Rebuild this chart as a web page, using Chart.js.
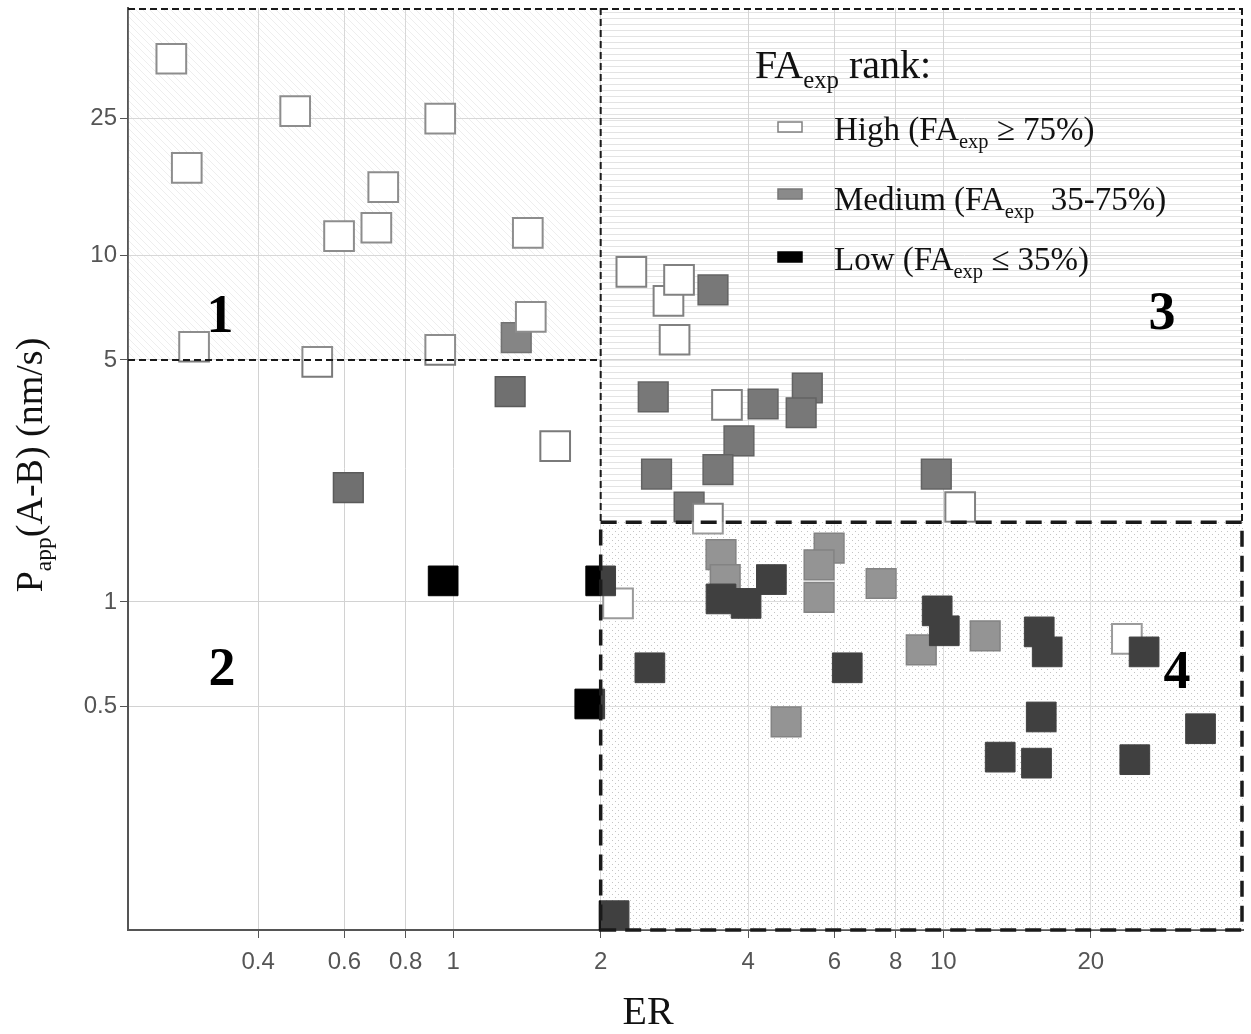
<!DOCTYPE html>
<html>
<head>
<meta charset="utf-8">
<script src="https://cdn.jsdelivr.net/npm/chart.js@4.4.1/dist/chart.umd.min.js"></script>
<style>
  html, body { margin: 0; padding: 0; background: #fff; }
  #wrap { width: 1251px; height: 1034px; position: relative; }
</style>
</head>
<body>
<div id="wrap"><canvas id="chart"></canvas></div>
<script>
// values (ER, Papp A-B in nm/s), grouped by FAexp rank
const highER   = [0.266, 0.286, 0.476, 0.941, 0.72, 0.585, 0.697, 1.42, 1.44, 0.296, 0.528, 0.941, 1.615,
                  2.31, 2.75, 2.89, 2.83, 3.62, 3.31, 10.83, 2.17, 23.7];
const highPapp = [37.1, 17.96, 26.2, 24.9, 15.8, 11.4, 12.05, 11.65, 6.66, 5.46, 4.94, 5.35, 2.82,
                  8.99, 7.41, 8.52, 5.72, 3.71, 1.74, 1.88, 0.99, 0.782];

const medER   = [1.345, 1.307, 0.611, 3.39, 2.56, 4.29, 5.28, 5.13, 3.83, 2.6, 3.47, 3.03, 9.68,
                 3.52, 3.59, 5.85, 5.58, 5.58, 7.47, 4.78, 9.02, 12.18];
const medPapp = [5.8, 4.05, 2.14, 7.97, 3.91, 3.73, 4.15, 3.52, 2.92, 2.34, 2.41, 1.88, 2.34,
                 1.37, 1.16, 1.43, 1.28, 1.03, 1.13, 0.45, 0.727, 0.798];

const lowER   = [0.954, 2.0, 1.9, 2.13, 3.52, 3.96, 4.46, 2.52, 6.37, 9.72, 10.05, 15.7, 16.3, 25.7,
                 15.85, 13.07, 15.5, 24.6, 33.5];
const lowPapp = [1.15, 1.15, 0.507, 0.124, 1.02, 0.99, 1.16, 0.645, 0.645, 0.942, 0.825, 0.819, 0.717, 0.717,
                 0.465, 0.356, 0.342, 0.35, 0.43];

const xTicks = [0.4, 0.6, 0.8, 1, 2, 4, 6, 8, 10, 20];
const yTicks = [0.5, 1, 5, 10, 25];
const xRange = [0.217, 40.9];
const yRange = [0.1127, 52];

// quadrant limits
const erCut = 2;
const pappCutLeft = 5;
const pappCutRight = 1.7;

const SERIF = '"Liberation Serif", "Times New Roman", serif';

function toPoints(xs, ys) {
    return xs.map((x, i) => ({ x: x, y: ys[i] }));
}

function makePattern(ctx, w, h, paint) {
    const c = document.createElement('canvas');
    c.width = w;
    c.height = h;
    paint(c.getContext('2d'));
    return ctx.createPattern(c, 'repeat');
}

// text with "exp"/"app" style subscripts
function richWidth(ctx, parts, size) {
    let w = 0;
    parts.forEach(([t, sub]) => {
        ctx.font = (sub ? size * 0.62 : size) + 'px ' + SERIF;
        w += ctx.measureText(t).width;
    });
    return w;
}

function drawRich(ctx, parts, x, y, size) {
    let cx = x;
    ctx.textAlign = 'left';
    ctx.textBaseline = 'alphabetic';
    parts.forEach(([t, sub]) => {
        ctx.font = (sub ? size * 0.62 : size) + 'px ' + SERIF;
        ctx.fillText(t, cx, sub ? y + size * 0.24 : y);
        cx += ctx.measureText(t).width;
    });
}

function dashed(ctx, x1, y1, x2, y2) {
    ctx.beginPath();
    ctx.moveTo(x1, y1);
    ctx.lineTo(x2, y2);
    ctx.stroke();
}

const regionsPlugin = {
    id: 'regions',
    beforeDraw(chart) {
        const { ctx, chartArea: a, scales: { x, y } } = chart;
        const xc = x.getPixelForValue(erCut);
        const yl = y.getPixelForValue(pappCutLeft);
        const yr = y.getPixelForValue(pappCutRight);

        const hatch = makePattern(ctx, 7, 7, g => {
            g.strokeStyle = '#ececec';
            g.lineWidth = 1;
            g.beginPath();
            g.moveTo(-1, -1); g.lineTo(8, 8);
            g.stroke();
        });
        const lines = makePattern(ctx, 4, 6, g => {
            g.fillStyle = '#e2e2e2';
            g.fillRect(0, 0, 4, 1);
        });
        const dots = makePattern(ctx, 6, 6, g => {
            g.fillStyle = '#b0b0b0';
            g.fillRect(0, 0, 1, 1);
            g.fillRect(3, 3, 1, 1);
        });

        ctx.save();
        ctx.fillStyle = hatch;
        ctx.fillRect(a.left, a.top, xc - a.left, yl - a.top);
        ctx.fillStyle = lines;
        ctx.fillRect(xc, a.top, a.right - xc, yr - a.top);
        ctx.fillStyle = dots;
        ctx.fillRect(xc, yr, a.right - xc, a.bottom - yr);
        ctx.restore();
    },
    afterDatasetsDraw(chart) {
        const { ctx, chartArea: a, scales: { x, y } } = chart;
        const xc = x.getPixelForValue(erCut);
        const yl = y.getPixelForValue(pappCutLeft);
        const yr = y.getPixelForValue(pappCutRight);

        ctx.save();
        // shading washes over the markers a little
        ctx.fillStyle = 'rgba(255,255,255,0.15)';
        ctx.fillRect(a.left, a.top, xc - a.left, yl - a.top);
        ctx.fillStyle = 'rgba(255,255,255,0.06)';
        ctx.fillRect(xc, a.top, a.right - xc, yr - a.top);
        ctx.fillStyle = 'rgba(255,255,255,0.25)';
        ctx.fillRect(xc, yr, a.right - xc, a.bottom - yr);

        // thin dashed boxes for regions 1 and 3
        ctx.strokeStyle = '#1a1a1a';
        ctx.lineWidth = 2;
        ctx.setLineDash([7, 4]);
        dashed(ctx, a.left, a.top + 1, a.right, a.top + 1);
        dashed(ctx, a.left, yl, xc, yl);
        dashed(ctx, xc, a.top, xc, yr);
        dashed(ctx, a.right - 1, a.top, a.right - 1, yr);

        // heavy dashed box for region 4
        ctx.lineWidth = 3.5;
        ctx.setLineDash([16, 9]);
        ctx.strokeRect(xc, yr, a.right - 1 - xc, a.bottom - yr);
        ctx.setLineDash([]);

        // region numbers
        ctx.fillStyle = '#000';
        ctx.font = 'bold 54px ' + SERIF;
        ctx.textAlign = 'center';
        ctx.textBaseline = 'middle';
        ctx.fillText('1', a.left + 92, yl - 42);
        ctx.fillText('2', a.left + 94, 671);
        ctx.fillText('3', a.right - 81, 315);
        ctx.fillText('4', a.right - 66, 674);
        ctx.restore();
    },
    afterDraw(chart) {
        const { ctx } = chart;
        ctx.save();
        ctx.fillStyle = '#111';

        // legend
        drawRich(ctx, [['FA', false], ['exp', true], [' rank:', false]], 755, 78, 40);
        const entries = [
            { y: 140, box: 127, fill: '#ffffff', stroke: '#808080',
              parts: [['High (FA', false], ['exp', true], [' \u2265 75%)', false]] },
            { y: 210, box: 194, fill: '#8a8a8a', stroke: '#777777',
              parts: [['Medium (FA', false], ['exp', true], ['  35-75%)', false]] },
            { y: 270, box: 257, fill: '#000000', stroke: '#000000',
              parts: [['Low (FA', false], ['exp', true], [' \u2264 35%)', false]] }
        ];
        entries.forEach(e => {
            ctx.fillStyle = e.fill;
            ctx.strokeStyle = e.stroke;
            ctx.lineWidth = 1.5;
            ctx.fillRect(778, e.box - 5, 24, 10);
            ctx.strokeRect(778, e.box - 5, 24, 10);
            ctx.fillStyle = '#111';
            drawRich(ctx, e.parts, 834, e.y, 33);
        });

        // x title
        ctx.font = '40px ' + SERIF;
        ctx.textAlign = 'center';
        ctx.textBaseline = 'alphabetic';
        ctx.fillText('ER', 648, 1024);

        // y title, rotated
        const yParts = [['P', false], ['app', true], ['(A-B) (nm/s)', false]];
        const w = richWidth(ctx, yParts, 38);
        ctx.translate(42, 465);
        ctx.rotate(-Math.PI / 2);
        drawRich(ctx, yParts, -w / 2, 0, 38);
        ctx.restore();
    }
};

const tickFont = { family: '"Liberation Sans", Arial, sans-serif', size: 24 };

new Chart(document.getElementById('chart'), {
    type: 'scatter',
    data: {
        datasets: [
            {
                label: 'Low',
                data: toPoints(lowER, lowPapp),
                backgroundColor: '#000000',
                borderColor: '#000000',
                borderWidth: 1,
                order: 1
            },
            {
                label: 'High',
                data: toPoints(highER, highPapp),
                backgroundColor: '#ffffff',
                borderColor: '#7a7a7a',
                borderWidth: 2,
                order: 2
            },
            {
                label: 'Medium',
                data: toPoints(medER, medPapp),
                backgroundColor: '#707070',
                borderColor: '#5a5a5a',
                borderWidth: 1.5,
                order: 3
            }
        ]
    },
    options: {
        responsive: true,
        maintainAspectRatio: false,
        animation: false,
        layout: { autoPadding: false, padding: { top: 8, right: 8, left: 0, bottom: 0 } },
        elements: {
            point: { pointStyle: 'rect', radius: 21, hoverRadius: 21 }
        },
        plugins: {
            legend: { display: false },
            tooltip: { enabled: false }
        },
        scales: {
            x: {
                type: 'logarithmic',
                min: xRange[0],
                max: xRange[1],
                afterBuildTicks: s => { s.ticks = xTicks.map(v => ({ value: v })); },
                afterFit: s => { s.height = 104; s.paddingLeft = 0; s.paddingRight = 0; },
                ticks: {
                    autoSkip: false,
                    maxRotation: 0,
                    padding: 10,
                    color: '#555',
                    font: tickFont,
                    callback: v => String(v)
                },
                grid: { color: '#d2d2d2', lineWidth: 1, tickLength: 8, tickColor: '#555' },
                border: { display: true, color: '#555', width: 2 }
            },
            y: {
                type: 'logarithmic',
                min: yRange[0],
                max: yRange[1],
                afterBuildTicks: s => { s.ticks = yTicks.map(v => ({ value: v })); },
                afterFit: s => { s.width = 128; s.paddingTop = 0; s.paddingBottom = 0; },
                ticks: {
                    autoSkip: false,
                    padding: 3,
                    color: '#555',
                    font: tickFont,
                    callback: v => String(v)
                },
                grid: { color: '#d2d2d2', lineWidth: 1, tickLength: 8, tickColor: '#555' },
                border: { display: true, color: '#555', width: 2 }
            }
        }
    },
    plugins: [regionsPlugin]
});
</script>
</body>
</html>
